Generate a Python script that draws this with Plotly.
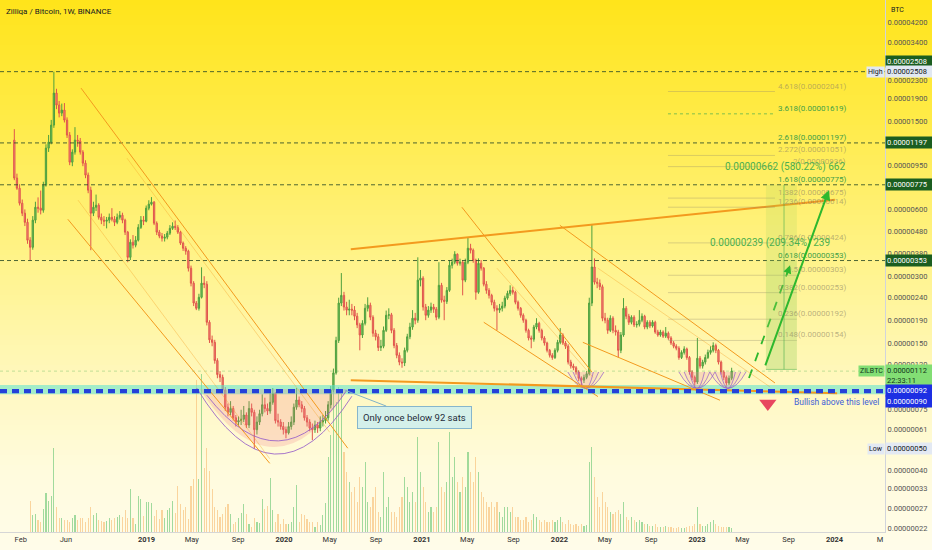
import math
from datetime import date, timedelta
import plotly.graph_objects as go

# ---------------- data (prices in satoshis, 1 sat = 0.00000001 BTC) ----------------
FIRST_WEEK = date(2018, 1, 15)
first_open = 1232

close = [831, 748, 640, 577, 525, 436, 405, 537, 614, 608, 595, 772, 1134, 1207, 1440, 2008,
         1773, 1631, 1683, 1517, 1298, 980, 1088, 1232, 1219, 1088, 970, 857, 733, 577, 614, 627,
         553, 537, 531, 537, 553, 542, 525, 553, 565, 537, 474, 365, 427, 414, 436, 498, 537, 531,
         608, 634, 647, 520, 474, 455, 445, 450, 469, 493, 504, 498, 474, 423, 401, 389, 326, 279,
         227, 215, 241, 279, 276, 186, 155, 151, 125, 108, 105, 92, 77, 73, 76, 69, 66, 67, 68, 71,
         64, 76, 73, 61, 66, 72, 79, 76, 74, 81, 89, 67, 66, 63, 61, 59, 63, 66, 77, 83, 79, 76,
         69, 66, 62, 61, 64, 62, 66, 67, 69, 79, 92, 110, 154, 227, 246, 218, 211, 213, 211, 198,
         181, 163, 184, 215, 222, 196, 166, 160, 143, 145, 171, 200, 201, 171, 146, 132, 123, 122,
         139, 160, 177, 194, 190, 288, 294, 218, 200, 211, 218, 213, 196, 273, 234, 231, 259, 336,
         347, 377, 343, 347, 288, 347, 401, 393, 354, 254, 343, 326, 276, 259, 246, 229, 215, 211,
         215, 220, 239, 251, 259, 254, 229, 215, 200, 190, 171, 158, 156, 177, 184, 171, 158, 150,
         139, 132, 129, 139, 151, 163, 150, 145, 123, 118, 116, 111, 104, 102, 105, 109, 227, 330,
         282, 279, 269, 194, 190, 171, 194, 171, 168, 139, 163, 215, 198, 186, 196, 181, 182, 190,
         198, 177, 186, 179, 186, 168, 163, 168, 161, 166, 158, 150, 145, 142, 129, 136, 141, 129,
         111, 105, 100, 128, 118, 123, 129, 136, 139, 146, 139, 123, 111, 105, 99, 104, 112]

high = [1381, 870, 780, 665, 600, 545, 450, 560, 650, 680, 730, 800, 1180, 1300, 1520, 2508,
        2100, 1850, 1800, 1810, 1560, 1340, 1120, 1410, 1300, 1260, 1110, 1000, 880, 760, 650, 700,
        640, 575, 560, 555, 575, 608, 560, 575, 590, 580, 545, 480, 440, 460, 455, 515, 560, 560,
        625, 660, 682, 655, 530, 485, 470, 465, 480, 510, 525, 535, 510, 480, 430, 410, 395, 335,
        285, 232, 250, 329, 300, 285, 190, 162, 155, 128, 112, 108, 95, 80, 82, 78, 71, 70, 75, 78,
        73, 82, 80, 75, 70, 75, 88, 85, 80, 90, 94, 90, 72, 68, 66, 63, 66, 70, 80, 94, 86, 82,
        78, 71, 68, 65, 67, 66, 70, 71, 74, 82, 96, 115, 160, 240, 310, 255, 230, 235, 225, 220,
        205, 185, 190, 225, 241, 228, 200, 172, 165, 155, 178, 210, 215, 205, 175, 150, 136, 128,
        143, 165, 185, 211, 205, 365, 320, 300, 225, 220, 228, 225, 218, 347, 280, 245, 268, 354,
        360, 389, 380, 360, 355, 360, 450, 420, 400, 360, 361, 355, 330, 285, 265, 250, 235, 222,
        225, 230, 245, 258, 273, 269, 258, 233, 218, 204, 193, 174, 162, 181, 194, 187, 174, 161,
        152, 141, 135, 142, 155, 175, 166, 153, 148, 126, 121, 118, 113, 106, 108, 112, 240, 516,
        361, 295, 290, 275, 205, 195, 200, 198, 180, 172, 168, 239, 220, 203, 200, 200, 188, 211,
        204, 201, 190, 190, 190, 189, 172, 172, 171, 177, 169, 161, 153, 148, 145, 139, 145, 143,
        131, 113, 107, 158, 131, 126, 133, 140, 145, 151, 149, 141, 125, 113, 107, 107, 116]

low = [813, 735, 625, 560, 505, 420, 353, 395, 520, 580, 570, 580, 760, 1090, 1180, 1400,
       1700, 1560, 1580, 1480, 1260, 950, 940, 1060, 1150, 1060, 940, 830, 710, 393, 560, 590,
       540, 515, 505, 493, 520, 530, 505, 515, 540, 520, 460, 347, 355, 400, 405, 430, 490, 510,
       525, 595, 625, 510, 460, 445, 430, 430, 440, 460, 485, 485, 465, 415, 390, 375, 315, 270,
       220, 211, 210, 238, 265, 180, 150, 145, 121, 104, 100, 89, 74, 70, 71, 67, 63, 63, 64, 66,
       62, 62, 70, 50, 58, 64, 70, 73, 71, 72, 79, 65, 63, 61, 58, 55.8, 58, 61, 64, 75, 77, 73,
       67, 63, 60, 54.7, 59, 59, 60, 63, 65, 67, 76, 90, 108, 150, 220, 210, 200, 200, 200, 190,
       175, 139, 158, 180, 208, 190, 160, 154, 138, 138, 142, 168, 192, 166, 142, 128, 119, 116,
       118, 136, 156, 172, 182, 185, 270, 210, 190, 195, 205, 205, 190, 192, 228, 190, 225, 255,
       325, 340, 335, 335, 246, 282, 340, 380, 345, 235, 250, 318, 270, 250, 238, 222, 208, 171,
       205, 208, 215, 235, 245, 248, 224, 210, 195, 185, 167, 154, 142, 152, 173, 167, 154, 146,
       136, 129, 126, 127, 136, 148, 147, 141, 120, 115, 113, 108, 101, 95, 99, 103, 107, 220,
       275, 265, 260, 188, 184, 165, 168, 166, 162, 129, 135, 160, 192, 181, 182, 177, 176, 178,
       186, 173, 173, 175, 176, 165, 160, 160, 158, 158, 155, 147, 142, 139, 126, 127, 133, 126,
       108, 102, 95, 98, 115, 115, 120, 127, 133, 136, 135, 120, 108, 102, 95, 97, 102]

volume = [0, 0, 0, 0, 0, 0, 31, 17, 18, 12, 10, 23, 39, 31, 36, 84,
          25, 14, 14, 12, 12, 10, 14, 17, 12, 14, 14, 10, 14, 25, 17, 19, 12, 11, 10, 11,
          14, 12, 14, 15, 17, 15, 22, 14, 43, 14, 8, 36, 33, 16, 30, 30, 29, 16, 22, 13,
          22, 14, 22, 24, 31, 19, 46, 28, 22, 25, 13, 46, 53, 152, 53, 158, 64, 84, 61, 43,
          25, 22, 15, 18, 25, 28, 18, 8, 10, 14, 19, 28, 18, 8, 5, 14, 10, 9, 33, 23,
          26, 54, 22, 10, 18, 8, 13, 8, 8, 10, 25, 47, 10, 18, 17, 13, 10, 10, 5, 10,
          7, 17, 29, 75, 97, 140, 130, 145, 138, 80, 60, 50, 40, 45, 30, 55, 45, 70, 30, 25,
          35, 45, 20, 15, 60, 25, 35, 20, 20, 15, 25, 35, 55, 45, 30, 40, 30, 95, 60, 45,
          30, 20, 25, 20, 25, 90, 45, 40, 50, 100, 55, 75, 50, 40, 55, 45, 80, 60, 50, 75,
          60, 40, 35, 30, 25, 30, 25, 30, 20, 15, 25, 25, 20, 25, 15, 15, 12, 12, 15, 10,
          12, 18, 15, 12, 10, 12, 10, 10, 12, 10, 12, 15, 10, 8, 12, 8, 7, 8, 6, 8,
          6, 7, 70, 85, 55, 35, 25, 40, 30, 25, 20, 18, 20, 22, 18, 30, 15, 12, 15, 12,
          10, 12, 10, 8, 8, 6, 6, 8, 5, 5, 5, 6, 5, 5, 4, 4, 5, 4, 4, 5,
          6, 6, 8, 25, 8, 6, 6, 8, 10, 12, 8, 6, 5, 5, 5, 5, 4]

assert len(close) == len(high) == len(low) == len(volume)

ytick_vals = [4200, 3400, 2300, 1900, 1500, 950, 600, 480, 380, 300, 240, 190, 150, 120,
              75, 61, 40, 33, 27, 22]
xtick_vals = ["2018-02-01", "2018-06-01", "2019-01-01", "2019-05-01", "2019-09-01", "2020-01-01",
              "2020-05-01", "2020-09-01", "2021-01-01", "2021-05-01", "2021-09-01", "2022-01-01",
              "2022-05-01", "2022-09-01", "2023-01-01", "2023-05-01", "2023-09-01", "2024-01-01",
              "2024-05-01"]
xtick_labels = ["Feb", "Jun", "2019", "May", "Sep", "2020", "May", "Sep", "2021", "May", "Sep",
                "2022", "May", "Sep", "2023", "May", "Sep", "2024", "M"]

key_levels = [2508, 1197, 775, 353]          # dashed horizontal levels
support_levels = [92, 90]                    # blue dashed support
all_time_high, all_time_low, last_price = 2508, 50, 112

fib_upper = [("4.618", 2041, False), ("3.618", 1619, True), ("2.618", 1197, True),
             ("2.272", 1051, False), ("2", 936, False), ("1.618", 775, True),
             ("1.382", 675, False), ("1.236", 614, False)]
fib_lower = [("0.786", 424, False), ("0.618", 353, True), ("0.5", 303, False),
             ("0.382", 253, False), ("0.236", 192, False), ("0.148", 154, False)]

range_base = 114
range_targets = [(353, "0.00000239 (209.34%) 239"), (775, "0.00000662 (580.22%) 662")]

# ---------------- derived ----------------
weeks = [(FIRST_WEEK + timedelta(weeks=i)).isoformat() for i in range(len(close))]
opens = [first_open] + close[:-1]
vol_colors = ["rgba(110,200,120,0.65)" if c >= o else "rgba(247,190,120,0.65)"
              for o, c in zip(opens, close)]

def L(v):
    return math.log10(v)

def btc(v):
    return f"{v / 1e8:.8f}"

W, H = 932, 550
PLOT_H = 532

fig = go.Figure()

fig.add_trace(go.Bar(x=weeks, y=volume, marker=dict(color=vol_colors, line=dict(width=0)),
                     width=3.0 * 86400000, yaxis="y2", hoverinfo="skip", showlegend=False))

fig.add_trace(go.Candlestick(
    x=weeks, open=opens, high=high, low=low, close=close,
    increasing=dict(line=dict(color="#4E9F3D", width=1), fillcolor="#74C262"),
    decreasing=dict(line=dict(color="#E0564B", width=1), fillcolor="#F28C82"),
    whiskerwidth=0, hoverinfo="skip", showlegend=False))

shapes = []
# background gradient
stops = [(0, (255, 228, 26)), (120, (255, 235, 72)), (260, (255, 243, 138)),
         (380, (255, 248, 190)), (470, (255, 251, 221)), (550, (255, 252, 233))]

def grad(p):
    for (p0, c0), (p1, c1) in zip(stops, stops[1:]):
        if p0 <= p <= p1:
            t = (p - p0) / (p1 - p0)
            return tuple(round(a + (b - a) * t) for a, b in zip(c0, c1))
    return stops[-1][1]

step = 5
for p in range(0, H, step):
    c = grad(p + step / 2)
    shapes.append(dict(type="rect", xref="paper", yref="paper", x0=0, x1=W / 885,
                       y0=(PLOT_H - p - step) / PLOT_H, y1=(PLOT_H - p) / PLOT_H,
                       fillcolor=f"rgb{c}", line=dict(width=0), layer="below"))

# cyan support band
shapes.append(dict(type="rect", xref="paper", yref="y", x0=0, x1=1, y0=88, y1=97,
                   fillcolor="rgba(90,228,205,0.55)", line=dict(width=0), layer="above"))

# cup drawing
shapes.append(dict(type="path", xref="x", yref="y",
                   path="M 2019-05-22,93 Q 2019-12-07,27.9 2020-06-18,93 Z",
                   fillcolor="rgba(240,120,130,0.22)", line=dict(width=0), layer="above"))
shapes.append(dict(type="path", xref="x", yref="y",
                   path="M 2019-05-14,94 Q 2019-12-07,24.9 2020-06-29,86.3",
                   line=dict(color="rgba(150,95,200,0.85)", width=1), layer="above"))
shapes.append(dict(type="path", xref="x", yref="y",
                   path="M 2019-06-10,87.2 Q 2019-12-21,32.9 2020-06-16,92",
                   line=dict(color="rgba(150,95,200,0.85)", width=1), layer="above"))

# small arcs at the 2022 / 2023 lows
for centre in [date(2022, 3, 12), date(2023, 1, 1), date(2023, 3, 24)]:
    for half in (48, 34, 20):
        d0 = (centre - timedelta(days=half)).isoformat()
        d1 = (centre + timedelta(days=half)).isoformat()
        shapes.append(dict(type="path", xref="x", yref="y",
                           path=f"M {d0},111 Q {centre.isoformat()},79 {d1},111",
                           fillcolor="rgba(240,140,170,0.10)",
                           line=dict(color="rgba(150,95,200,0.8)", width=0.9), layer="above"))

# key dashed levels
for v in key_levels:
    shapes.append(dict(type="line", xref="paper", yref="y", x0=0, x1=1, y0=v, y1=v,
                       line=dict(color="rgba(45,75,40,0.85)", width=1, dash="4px,3px"),
                       layer="above"))
# last price line
shapes.append(dict(type="line", xref="paper", yref="y", x0=0, x1=1, y0=last_price, y1=last_price,
                   line=dict(color="rgba(76,175,80,0.35)", width=1, dash="dot"), layer="above"))

# trend lines: (start date, start price, end date, end price, colour, width)
ORANGE = "#F39A1E"
FAINT = "rgba(245,160,40,0.55)"
trend_lines = [
    ("2018-07-11", 2115, "2020-06-18", 50.3, ORANGE, 1),
    ("2018-06-06", 542, "2019-11-24", 43, ORANGE, 1),
    ("2018-07-03", 661, "2019-11-24", 45.1, FAINT, 0.7),
    ("2018-11-10", 1022, "2020-05-01", 59.4, FAINT, 0.7),
    ("2020-06-26", 397, "2024-01-02", 664, ORANGE, 2),
    ("2020-06-26", 102, "2024-01-08", 89, ORANGE, 2),
    ("2021-04-17", 614, "2022-03-28", 111, ORANGE, 1),
    ("2021-06-14", 186, "2022-04-13", 86, ORANGE, 1),
    ("2021-07-19", 326, "2022-03-31", 105, FAINT, 0.7),
    ("2022-01-02", 509, "2023-07-27", 99, ORANGE, 1),
    ("2022-04-13", 326, "2023-07-14", 95, FAINT, 0.7),
    ("2022-03-04", 151, "2023-03-03", 82.8, ORANGE, 1),
]
for d0, p0, d1, p1, col, w in trend_lines:
    shapes.append(dict(type="line", xref="x", yref="y", x0=d0, y0=p0, x1=d1, y1=p1,
                       line=dict(color=col, width=w), layer="above"))

# blue dashed support lines
for v in support_levels:
    shapes.append(dict(type="line", xref="paper", yref="y", x0=0, x1=1, y0=v, y1=v,
                       line=dict(color="#2541D9", width=2.2, dash="7px,5px"), layer="above"))

# fib level lines
for lvl, v, key in fib_upper:
    if not key or lvl == "3.618":
        shapes.append(dict(type="line", xref="x", yref="y", x0="2022-10-16", x1="2023-07-27",
                           y0=v, y1=v, layer="above",
                           line=dict(color="rgba(76,175,80,0.7)" if key else "rgba(150,140,110,0.35)",
                                     width=1, dash="dot" if key else "solid")))
for lvl, v, key in fib_lower:
    if not key:
        shapes.append(dict(type="line", xref="x", yref="y", x0="2022-10-16", x1="2023-09-23",
                           y0=v, y1=v, layer="above",
                           line=dict(color="rgba(150,140,110,0.35)", width=1)))

# price range tool
for top, _ in range_targets:
    shapes.append(dict(type="rect", xref="x", yref="y", x0="2023-07-03", x1="2023-09-23",
                       y0=range_base, y1=top, fillcolor="rgba(150,210,90,0.17)",
                       line=dict(width=0), layer="above"))
shapes.append(dict(type="line", xref="x", yref="y", x0="2023-08-20", x1="2023-08-20",
                   y0=range_base, y1=775, line=dict(color="rgba(76,175,80,0.6)", width=1),
                   layer="above"))
shapes.append(dict(type="line", xref="x", yref="y", x0="2023-07-03", x1="2023-09-23",
                   y0=range_base, y1=range_base, line=dict(color="rgba(76,175,80,0.5)", width=1),
                   layer="above"))

# dashed projection + red marker
fig.add_trace(go.Scatter(x=["2023-05-19", "2023-09-05"], y=[104.3, 336], mode="lines",
                         line=dict(color="#2EB82E", width=1.8, dash="dash"),
                         hoverinfo="skip", showlegend=False))
fig.add_trace(go.Scatter(x=["2023-07-08"], y=[80], mode="markers",
                         marker=dict(symbol="triangle-down", size=15, color="#E8475F",
                                     line=dict(width=0)),
                         hoverinfo="skip", showlegend=False))

ann = []
FONT = "Roboto"
# title
ann.append(dict(xref="paper", yref="paper", x=0, y=1, xshift=4, yshift=-11, xanchor="left",
                yanchor="middle", showarrow=False, text="Zilliqa / Bitcoin, 1W, BINANCE",
                font=dict(size=8, color="#131722", family=FONT)))
ann.append(dict(xref="paper", yref="paper", x=1, y=1, xshift=4, yshift=-10, xanchor="left",
                yanchor="middle", showarrow=False, text="BTC",
                font=dict(size=7, color="#131722", family=FONT)))

# fib labels
for lvl, v, key in fib_upper + fib_lower:
    ann.append(dict(xref="x", yref="y", x="2024-02-06", y=L(v), xanchor="right",
                    yanchor="bottom", yshift=-1, showarrow=False, text=f"{lvl}({btc(v)})",
                    font=dict(size=8, family=FONT,
                              color="#43A047" if key else "rgba(140,130,100,0.6)")))

# range labels
ann.append(dict(xref="x", yref="y", x="2023-08-22", y=L(932), showarrow=False,
                text=range_targets[1][1], font=dict(size=10, color="#4CAF50", family=FONT)))
ann.append(dict(xref="x", yref="y", x="2023-07-14", y=L(423), showarrow=False,
                text=range_targets[0][1], font=dict(size=10, color="#4CAF50", family=FONT)))

# solid projection arrow
ann.append(dict(xref="x", yref="y", axref="x", ayref="y", x="2023-12-17", y=L(733),
                ax="2023-06-30", ay=L(117), showarrow=True, arrowhead=2, arrowsize=1,
                arrowwidth=2, arrowcolor="#2EB82E", text=""))
# arrowhead of dashed projection
ann.append(dict(xref="x", yref="y", x="2023-09-05", y=L(336), ax=-4, ay=11, showarrow=True,
                arrowhead=2, arrowsize=1, arrowwidth=1.6, arrowcolor="#2EB82E", text=""))

# callout
ann.append(dict(xref="x", yref="y", x="2020-06-10", y=L(92), ax=70, ay=27, showarrow=True,
                arrowhead=0, arrowwidth=1, arrowcolor="#7FB2C9",
                text="Only once below 92 sats", bgcolor="#D4F0EA", bordercolor="#86B6CC",
                borderwidth=1, borderpad=5, font=dict(size=9.5, color="#1E2B3A", family=FONT)))

ann.append(dict(xref="x", yref="y", x="2024-05-03", y=L(81), xanchor="right", showarrow=False,
                text="Bullish above this level", font=dict(size=8.5, color="#3F5FD7", family=FONT)))

# right axis labels
def axis_label(v, text, bg, fg, yshift=0, yanchor="middle"):
    ann.append(dict(xref="paper", yref="y", x=1, y=L(v), xanchor="left", yanchor=yanchor,
                    yshift=yshift, showarrow=False, text=text, bgcolor=bg, width=44,
                    align="left", borderpad=1, font=dict(size=7.5, color=fg, family=FONT)))

def side_tag(v, text, bg, fg):
    ann.append(dict(xref="paper", yref="y", x=1, y=L(v), xanchor="right", yanchor="middle",
                    showarrow=False, text=text, bgcolor=bg, borderpad=1,
                    font=dict(size=7, color=fg, family=FONT)))

axis_label(all_time_high, btc(all_time_high), "#1B5E20", "#FFFFFF", yshift=10)
axis_label(all_time_high, btc(all_time_high), "#E1E8F2", "#131722")
side_tag(all_time_high, "High", "#E1E8F2", "#131722")
for v in key_levels[1:]:
    axis_label(v, btc(v), "#1B5E20", "#FFFFFF")
axis_label(last_price, btc(last_price) + "<br>22:33:11", "#82DE74", "#12361A", yshift=7,
           yanchor="top")
side_tag(last_price, "ZILBTC", "#82DE74", "#12361A")
axis_label(92, btc(92), "#1D2FE3", "#FFFFFF")
axis_label(90, btc(90), "#1D2FE3", "#FFFFFF", yshift=-9)
axis_label(all_time_low, btc(all_time_low), "#E3E9F3", "#131722")
side_tag(all_time_low, "Low", "#E3E9F3", "#131722")

fig.update_layout(
    width=W, height=H, autosize=False,
    margin=dict(l=0, r=47, t=0, b=18),
    paper_bgcolor="#FFFCEB", plot_bgcolor="rgba(0,0,0,0)",
    font=dict(family=FONT, size=8, color="#4A4A4A"),
    showlegend=False, boxgap=0.3, bargap=0,
    shapes=shapes, annotations=ann,
    xaxis=dict(type="date", range=["2017-12-08", "2024-05-14"], showgrid=False, zeroline=False,
               tickvals=xtick_vals,
               ticktext=[f"<b>{t}</b>" if t.isdigit() else t for t in xtick_labels],
               tickfont=dict(size=7.5, color="#333333"), ticks="", showline=True,
               linecolor="#D6D6D6", rangeslider=dict(visible=False), fixedrange=True),
    yaxis=dict(type="log", range=[1.32388, 3.72244], side="right", showgrid=False,
               zeroline=False, tickvals=ytick_vals, ticktext=[btc(v) for v in ytick_vals],
               tickfont=dict(size=7.5, color="#555555"), ticks="", showline=True,
               linecolor="#D1D4DC", fixedrange=True),
    yaxis2=dict(overlaying="y", range=[0, PLOT_H], visible=False, fixedrange=True),
)

fig.write_html("out.html", config={"displayModeBar": False},
               post_script="document.body.style.margin='0px';"
                           "document.body.style.overflow='hidden';")
